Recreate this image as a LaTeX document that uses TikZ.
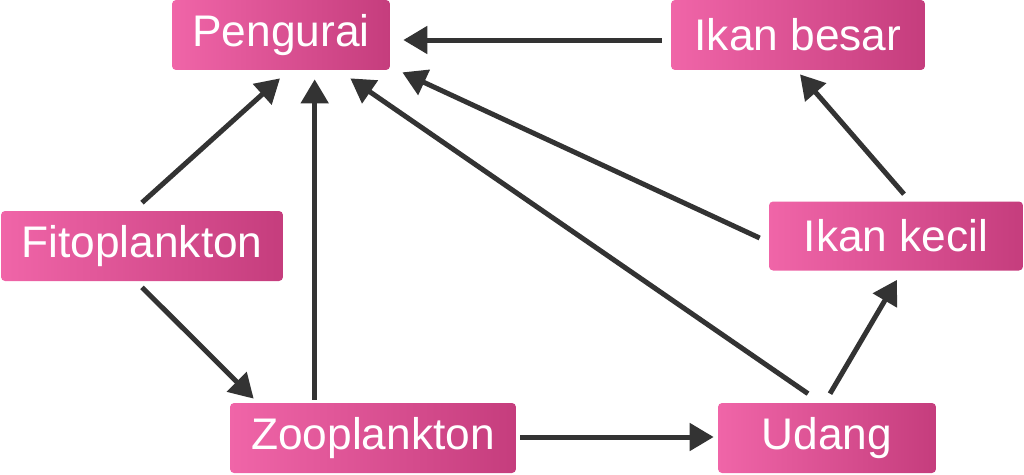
\documentclass[tikz,border=0pt]{standalone}
\usepackage{fontspec}
\setmainfont{Liberation Sans}
\usetikzlibrary{calc,arrows.meta}
\definecolor{pinkL}{HTML}{F065A8}
\definecolor{pinkR}{HTML}{C53D7D}
\definecolor{arrowgray}{HTML}{333333}
\tikzset{
  foodbox/.style={rectangle, rounded corners=0.08cm, left color=pinkL, right color=pinkR,
    draw=none, text=white, minimum height=1.4cm, inner sep=0pt,
    font=\fontsize{25.2}{28}\selectfont},
  eats/.style={line width=0.1cm, draw=arrowgray,
    -{Triangle[length=0.48cm,width=0.54cm,fill=arrowgray]}}
}
\begin{document}
\begin{tikzpicture}[x=0.02cm,y=-0.02cm]
\useasboundingbox (0,0) rectangle (1024,474);
\node[foodbox, minimum width=4.36cm] (pengurai) at (281,35) {Pengurai};
\node[foodbox, minimum width=5.08cm] (besar) at (798,35) {Ikan besar};
\node[foodbox, minimum width=5.64cm] (fito) at (142,246) {Fitoplankton};
\node[foodbox, minimum width=5.08cm, minimum height=1.38cm] (kecil) at (896,236) {Ikan kecil};
\node[foodbox, minimum width=5.72cm] (zoo) at (373,438) {Zooplankton};
\node[foodbox, minimum width=4.36cm] (udang) at (827,438) {Udang};
% arrows into Pengurai
\coordinate (zootop) at ($(zoo.north west)+(85,-3)$);
\draw[eats] ($(fito.north)+(0,-8)$) -- ($(pengurai.south)+(-1,8)$);
\draw[eats] (zootop) -- ($(zootop |- pengurai.south)+(0,9)$);
\draw[eats] ($(udang.north)+(-19,-9)$) -- ($(pengurai.south east)+(-40,8)$);
\draw[eats] ($(kecil.west)+(-9,2)$) -- ($(pengurai.south east)+(12,2)$);
\draw[eats] ($(besar.west)+(-9,5)$) -- ($(pengurai.east)+(13,5)$);
% other arrows
\draw[eats] ($(kecil.north)+(8,-7)$) -- ($(besar.south)+(2,4)$);
\draw[eats] ($(udang.north)+(3,-9)$) -- ($(kecil.south)+(1,9)$);
\draw[eats] ($(fito.south)+(0,6)$) -- ($(zoo.north west)+(24,-4)$);
\draw[eats] ($(zoo.east)+(4,-1)$) -- ($(udang.west)+(-4,-1)$);
\end{tikzpicture}
\end{document}
